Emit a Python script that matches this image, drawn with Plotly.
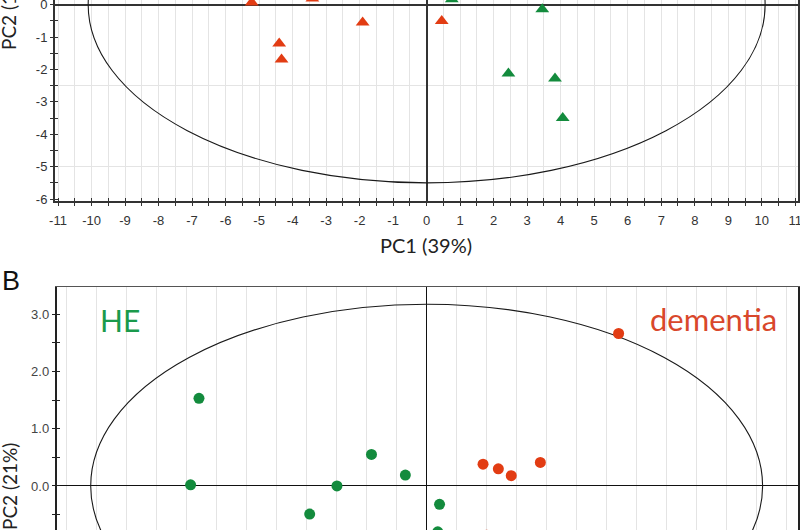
import plotly.graph_objects as go

# ---------- Panel A (PC1 vs PC2, triangles) ----------
a_dem_x = [-5.22, -3.41, -1.91, -4.40, -4.33, 0.45]
a_dem_y = [0.07, 0.19, -0.55, -1.20, -1.69, -0.50]
a_he_x = [0.75, 3.45, 2.44, 3.83, 4.06]
a_he_y = [0.17, -0.14, -2.12, -2.28, -3.50]
a_ellipse = [10.1, 5.5]          # semi-axes (PC1, PC2)
a_xrange = [-11.09, 11.09]
a_yrange = [-6.05, 0.145]
a_xtick_vals = [-11, -10, -9, -8, -7, -6, -5, -4, -3, -2, -1, 0, 1, 2, 3, 4, 5, 6, 7, 8, 9, 10, 11]
a_xtick_text = ["-11", "-10", "-9", "-8", "-7", "-6", "-5", "-4", "-3", "-2", "-1", "0",
                "1", "2", "3", "4", "5", "6", "7", "8", "9", "10", "11"]
a_ytick_vals = [0, -1, -2, -3, -4, -5, -6]
a_ytick_text = ["0", "-1", "-2", "-3", "-4", "-5", "-6"]

# ---------- Panel B (circles) ----------
b_he_x = [-7.59, -7.87, -1.84, -2.99, -3.90, -0.71, 0.43, 0.37]
b_he_y = [1.53, 0.02, 0.55, 0.00, -0.49, 0.19, -0.32, -0.80]
b_dem_x = [1.88, 2.39, 2.82, 3.79, 6.40, 2.00]
b_dem_y = [0.38, 0.30, 0.18, 0.41, 2.66, -0.86]
b_ellipse = [11.2, 3.17]
b_xrange = [-12.34, 12.39]
b_yrange = [-0.768, 3.48]

GREEN = "#138b3d"
RED = "#e23c13"
GRID = "#e4e4e4"
AX = "#333333"
W, H = 800, 530

fig = go.Figure()

fig.add_trace(go.Scatter(x=a_dem_x, y=a_dem_y, mode="markers", xaxis="x", yaxis="y",
                         marker=dict(symbol="triangle-up", size=12, color=RED), showlegend=False))
fig.add_trace(go.Scatter(x=a_he_x, y=a_he_y, mode="markers", xaxis="x", yaxis="y",
                         marker=dict(symbol="triangle-up", size=12, color=GREEN), showlegend=False))
fig.add_trace(go.Scatter(x=b_he_x, y=b_he_y, mode="markers", xaxis="x2", yaxis="y2",
                         marker=dict(symbol="circle", size=11, color=GREEN), showlegend=False))
fig.add_trace(go.Scatter(x=b_dem_x, y=b_dem_y, mode="markers", xaxis="x2", yaxis="y2",
                         marker=dict(symbol="circle", size=11, color=RED), showlegend=False))
# empty traces to keep overlay axes alive
fig.add_trace(go.Scatter(x=[], y=[], xaxis="x3", yaxis="y3", showlegend=False))
fig.add_trace(go.Scatter(x=[], y=[], xaxis="x", yaxis="y5", showlegend=False))
fig.add_trace(go.Scatter(x=[], y=[], xaxis="x2", yaxis="y4", showlegend=False))

dxA = [55 / W, 798.3 / W]
dyA = [1 - 200.7 / H, 1]
dxB = [56.5 / W, 798.3 / W]
dyB = [0, (H - 286.5) / H]

tickfont = dict(family="Liberation Sans, Arial, sans-serif", size=13, color=AX)

fig.update_layout(
    template="none",
    width=W, height=H, margin=dict(l=0, r=0, t=0, b=0, autoexpand=False),
    paper_bgcolor="white", plot_bgcolor="white",
    xaxis=dict(domain=dxA, range=a_xrange, anchor="y", tickmode="array",
               tickvals=a_xtick_vals, ticktext=a_xtick_text, automargin=False,
               ticklabeloverflow="allow",
               ticks="outside", ticklen=3, tickcolor=AX, tickwidth=1,
               minor=dict(dtick=0.5, tick0=0, ticks="outside", ticklen=3, tickcolor=AX,
                          showgrid=True, gridcolor=GRID, gridwidth=1),
               showgrid=True, gridcolor=GRID, gridwidth=1,
               zeroline=True, zerolinecolor=AX, zerolinewidth=1.5,
               showline=True, linecolor=AX, linewidth=2, mirror=False,
               tickfont=tickfont, ticklabelstandoff=4),
    xaxis3=dict(overlaying="x", matches="x", anchor="y", range=a_xrange, dtick=1, tick0=0,
                automargin=False, ticks="inside", ticklen=3, tickcolor=AX,
                minor=dict(dtick=0.5, tick0=0, ticks="inside", ticklen=3, tickcolor=AX),
                showticklabels=False, showgrid=False, zeroline=False, showline=False),
    yaxis=dict(domain=dyA, range=a_yrange, anchor="x", tickmode="array",
               tickvals=a_ytick_vals, ticktext=a_ytick_text, automargin=False,
               ticklabeloverflow="allow",
               ticks="outside", ticklen=3, tickcolor=AX,
               minor=dict(dtick=0.5, tick0=0, ticks="outside", ticklen=3, tickcolor=AX),
               showgrid=False, zeroline=True, zerolinecolor=AX, zerolinewidth=1.5,
               showline=True, linecolor=AX, linewidth=2, mirror=True,
               tickfont=tickfont),
    yaxis3=dict(overlaying="y", matches="y", anchor="x3", range=a_yrange, dtick=2.5, tick0=0,
                automargin=False, showgrid=True, gridcolor=GRID, ticks="", showticklabels=False,
                zeroline=False, showline=False),
    yaxis5=dict(overlaying="y", matches="y", anchor="x", range=a_yrange, dtick=1, tick0=0,
                automargin=False, ticks="inside", ticklen=3, tickcolor=AX,
                minor=dict(dtick=0.5, tick0=0, ticks="inside", ticklen=3, tickcolor=AX),
                showgrid=False, showticklabels=False, zeroline=False, showline=False),
    xaxis2=dict(domain=dxB, range=b_xrange, anchor="y2", dtick=1, tick0=0, side="top",
                automargin=False, showgrid=True, gridcolor=GRID, gridwidth=1, ticks="",
                showticklabels=False,
                zeroline=True, zerolinecolor="#111111", zerolinewidth=1.2,
                showline=True, linecolor="#555555", linewidth=1),
    yaxis2=dict(domain=dyB, range=b_yrange, anchor="x2", dtick=1, tick0=0, tickformat=".1f",
                automargin=False, ticks="outside", ticklen=3, tickcolor="#222222",
                minor=dict(dtick=0.5, tick0=0, ticks="outside", ticklen=3, tickcolor="#222222"),
                showgrid=False, zeroline=True, zerolinecolor="#111111", zerolinewidth=1.2,
                showline=True, linecolor="#222222", linewidth=1.5, mirror=True,
                tickfont=dict(family="Liberation Sans, Arial, sans-serif", size=13, color="#444444")),
    yaxis4=dict(overlaying="y2", matches="y2", anchor="x2", range=b_yrange, dtick=1, tick0=0,
                automargin=False, ticks="inside", ticklen=3, tickcolor="#222222",
                minor=dict(dtick=0.5, tick0=0, ticks="inside", ticklen=3, tickcolor="#222222"),
                showgrid=False, showticklabels=False, zeroline=False, showline=False),
)

# confidence ellipses
fig.add_shape(type="circle", xref="x", yref="y", layer="between",
              x0=-a_ellipse[0], x1=a_ellipse[0], y0=-a_ellipse[1], y1=a_ellipse[1],
              line=dict(color="#1a1a1a", width=1.1))
fig.add_shape(type="circle", xref="x2", yref="y2", layer="between",
              x0=-b_ellipse[0], x1=b_ellipse[0], y0=-b_ellipse[1], y1=b_ellipse[1],
              line=dict(color="#1a1a1a", width=1.1))

lab = "Lato, Open Sans, sans-serif"
anns = [
    dict(text="PC1 (39%)", x=426 / W, y=1 - 245 / H, font=dict(family=lab, size=20, color="#222222")),
    dict(text="PC2 (17%)", x=9 / W, y=1 - 7 / H, textangle=-90,
         font=dict(family=lab, size=19, color="#222222")),
    dict(text="PC2 (21%)", x=9 / W, y=1 - 487 / H, textangle=-90,
         font=dict(family=lab, size=19, color="#222222")),
    dict(text="B", x=11 / W, y=1 - 281 / H, font=dict(family="Liberation Sans, Arial", size=27, color="#111111")),
    dict(text="HE", x=120 / W, y=1 - 320 / H, font=dict(family=lab, size=30, color="#1a9a4c")),
    dict(text="dementia", x=713 / W, y=1 - 319 / H, font=dict(family=lab, size=31, color="#d9472b")),
]
for a in anns:
    fig.add_annotation(xref="paper", yref="paper", showarrow=False,
                       xanchor="center", yanchor="middle", **a)

fig.write_html("out.html", config={"displayModeBar": False},
               post_script="document.body.style.margin='0px';document.body.style.overflow='hidden';")
